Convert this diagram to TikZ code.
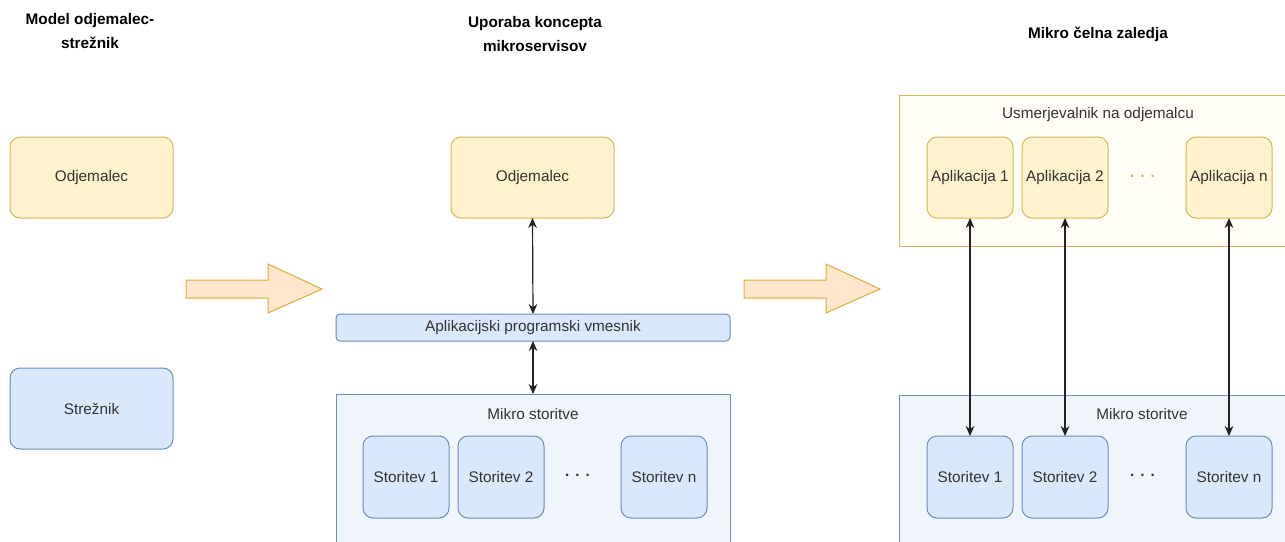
\documentclass[tikz,border=0pt]{standalone}
\usepackage{fontspec}
\setmainfont{Liberation Sans}
\usetikzlibrary{arrows.meta,fit}
\definecolor{txt}{HTML}{333333}
\definecolor{yfill}{HTML}{FFF2CC}
\definecolor{ystroke}{HTML}{D6B656}
\definecolor{bfill}{HTML}{DAE8FC}
\definecolor{bstroke}{HTML}{6C8EBF}
\definecolor{bpale}{HTML}{F0F4FB}
\definecolor{ypale}{HTML}{FFFDF6}
\definecolor{afill}{HTML}{FFE6CC}
\definecolor{astroke}{HTML}{E0AC3C}
\definecolor{link}{HTML}{222222}
\tikzset{
  base/.style={inner sep=0pt, outer sep=0pt, font=\fontsize{11.5}{14}\selectfont, text=txt, line width=0.75pt},
  ybox/.style={base, draw=ystroke, fill=yfill, rounded corners=7.5pt},
  bbox/.style={base, draw=bstroke, fill=bfill, rounded corners=7.5pt},
  apibar/.style={base, draw=bstroke, fill=bfill, rounded corners=3pt},
  bgroup/.style={base, draw=bstroke, fill=bpale},
  ygroup/.style={base, draw=ystroke, fill=ypale},
  title/.style={font=\bfseries\fontsize{11.5}{18}\selectfont, text=black, align=center, inner sep=0pt},
  grouplabel/.style={font=\fontsize{11.5}{14}\selectfont, text=txt, inner sep=0pt},
  dots/.style={font=\bfseries\fontsize{11.5}{14}\selectfont, inner sep=0pt},
  bigarrow/.style={draw=astroke, fill=afill, line width=0.75pt, line join=miter},
  link/.style={draw=link, line width=0.9pt, {Stealth[length=7.5pt,width=6.5pt]}-{Stealth[length=7.5pt,width=6.5pt]}}
}
\begin{document}
\begin{tikzpicture}[x=0.75pt, y=-0.75pt]
\useasboundingbox (0,0) rectangle (1285,542);
\clip (0,0) rectangle (1285,542);

% column titles
\node[title] (t1) at (90,31) {Model odjemalec-\\strežnik};
\node[title] (t2) at (535,34) {Uporaba koncepta\\mikroservisov};
\node[title] (t3) at (1098,34) {Mikro čelna zaledja};

% client-server model
\node[ybox, fit={(10,137)(173,218)}] (cl) {};
\node[base] at (cl.center) {Odjemalec};
\node[bbox, fit={(10,368)(173,449)}] (sv) {};
\node[base] at (sv.center) {Strežnik};

% transition arrows
\draw[bigarrow] (186,280) -- (268,280) -- (268,264) -- (322,289) -- (268,313) -- (268,298) -- (186,298) -- cycle;
\draw[bigarrow] (744,280) -- (826,280) -- (826,264) -- (880,289) -- (826,313) -- (826,298) -- (744,298) -- cycle;

% microservices
\node[ybox, fit={(451,137)(614,218)}] (cl2) {};
\node[base] at (cl2.center) {Odjemalec};
\node[apibar, fit={(336,314)(730,341)}] (api) {};
\node[base] at (api.center) {Aplikacijski programski vmesnik};
\node[bgroup, fit={(336,394)(730,560)}] (ms) {};
\node[grouplabel] (msl) at (533,414) {Mikro storitve};
\node[bbox, fit={(363,436)(449,518)}] (s1) {};
\node[base] at (s1.center) {Storitev 1};
\node[bbox, fit={(458,436)(544,518)}] (s2) {};
\node[base] at (s2.center) {Storitev 2};
\node[bbox, fit={(621,436)(707,518)}] (sn) {};
\node[base] at (sn.center) {Storitev n};
\node[dots, text=txt] (d1) at (578,477) {·\,\,·\,\,·};

\draw[link] (cl2.south) -- (api.north);
\draw[link] (api.south) -- (api.south |- ms.north);

% micro frontends
\node[ygroup, fit={(899,96)(1300,246)}] (rt) {};
\node[grouplabel] (rtl) at (1098,115) {Usmerjevalnik na odjemalcu};
\node[ybox, fit={(927,137)(1013,218)}] (a1) {};
\node[base] at (a1.center) {Aplikacija 1};
\node[ybox, fit={(1022,137)(1108,218)}] (a2) {};
\node[base] at (a2.center) {Aplikacija 2};
\node[ybox, fit={(1186,137)(1272,218)}] (an) {};
\node[base] at (an.center) {Aplikacija n};
\node[dots, text=ystroke] (d2) at (1143,178) {·\,\,·\,\,·};

\node[bgroup, fit={(899,395)(1300,560)}] (ms2) {};
\node[grouplabel] (ms2l) at (1142,414) {Mikro storitve};
\node[bbox, fit={(927,436)(1013,518)}] (r1) {};
\node[base] at (r1.center) {Storitev 1};
\node[bbox, fit={(1022,436)(1108,518)}] (r2) {};
\node[base] at (r2.center) {Storitev 2};
\node[bbox, fit={(1186,436)(1272,518)}] (rn) {};
\node[base] at (rn.center) {Storitev n};
\node[dots, text=txt] (d3) at (1143,477) {·\,\,·\,\,·};

\draw[link] (a1.south) -- (r1.north);
\draw[link] (a2.south) -- (r2.north);
\draw[link] (an.south) -- (rn.north);
\end{tikzpicture}
\end{document}
